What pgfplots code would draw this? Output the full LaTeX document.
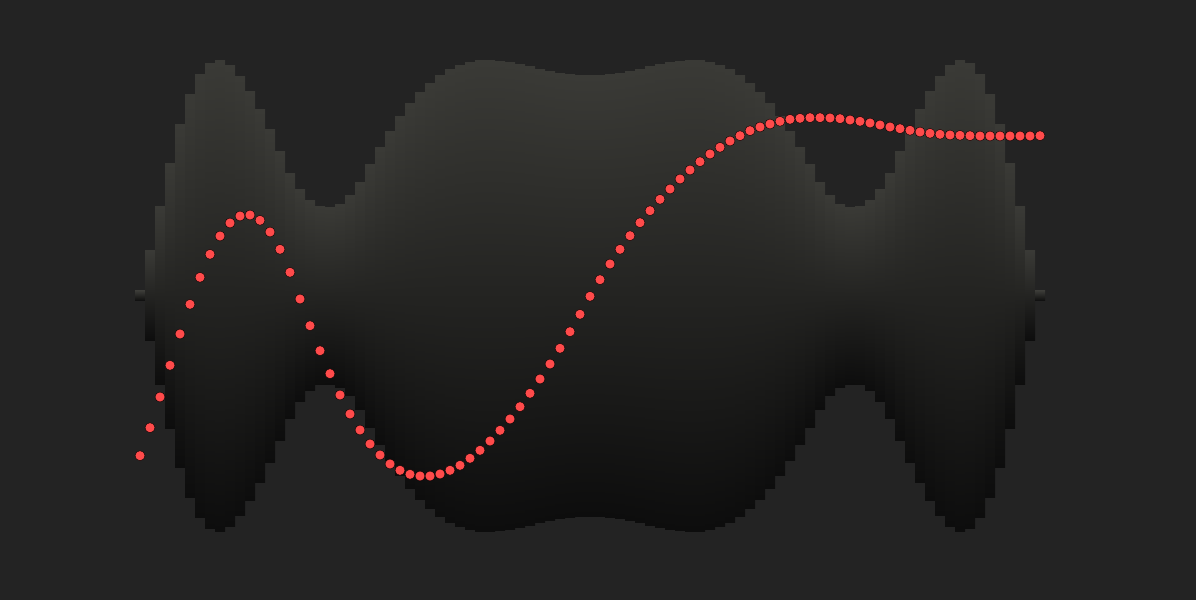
\documentclass[border=0pt]{standalone}
\usepackage{pgfplots}
\usepackage{pgfplotstable}
\pgfplotsset{compat=1.18}
\definecolor{bg}{HTML}{232323}
\definecolor{bandtop}{HTML}{3A3A36}
\definecolor{bandbot}{HTML}{0D0D0D}
\definecolor{dotred}{HTML}{FF4B4B}
\pgfdeclareverticalshading{bandshade}{100bp}{color(0bp)=(bandbot); color(25bp)=(bandbot); color(75bp)=(bandtop); color(100bp)=(bandtop)}
\pgfdeclareplotmark{bandbar}{%
  \pgfpathrectangle{\pgfpoint{-5bp}{-\hval bp}}{\pgfpoint{10bp}{2*\hval bp}}%
  \pgfshadepath{bandshade}{0}%
  \pgfusepath{}%
}
\pgfplotstableread{
x c h
140 304 5
150 304 45
160 304 89
170 304 132.5
180 304 171
190 304 201
200 304 221
210 304 232.5
220 304 235
230 304 230
240 304 219.5
250 304 204.5
260 304 186.5
270 304 166
280 304 144.5
290 304 122
300 304 106
310 304 95
320 304 89
330 304 88.5
340 304 91.5
350 304 100
360 304 113.5
370 304 131
380 304 148
390 304 164
400 304 179
410 304 192
420 304 203
430 304 212.5
440 304 220
450 304 226
460 304 230
470 304 233
480 304 235
490 304 235
500 304 234.5
510 304 233
520 304 231.5
530 304 229
540 304 226.5
550 304 224
560 304 222.5
570 304 221
580 304 220
590 304 220
600 304 220
610 304 221
620 304 222.5
630 304 224
640 304 226.5
650 304 229
660 304 231.5
670 304 233
680 304 234.5
690 304 235
700 304 235
710 304 233
720 304 230
730 304 226
740 304 220
750 304 212.5
760 304 203
770 304 192
780 304 179
790 304 164
800 304 148
810 304 131
820 304 113.5
830 304 100
840 304 91.5
850 304 88.5
860 304 89
870 304 95
880 304 106
890 304 122
900 304 144.5
910 304 166
920 304 186.5
930 304 204.5
940 304 219.5
950 304 230
960 304 235
970 304 232.5
980 304 221
990 304 201
1000 304 171
1010 304 132.5
1020 304 89
1030 304 45
1040 304 5
}\bandtable
\pgfplotstableread{
x y
140 144.3
150 172.3
160 203
170 234.7
180 266
190 295.7
200 322.7
210 345.7
220 364
230 377
240 384
250 385
260 379.7
270 368
280 350.7
290 327.7
300 301
310 274.3
320 249.3
330 226.3
340 205
350 186
360 170
370 156
380 145
390 136
400 129.7
410 125.7
420 124
430 124
440 126
450 129.7
460 134.7
470 141.7
480 149.7
490 159
500 169.7
510 181
520 193.3
530 206.7
540 221
550 236
560 251.7
570 268.3
580 285.7
590 303.7
600 320.3
610 336
620 350.7
630 364.3
640 377.3
650 389.3
660 400.7
670 411
680 421
690 430
700 438.3
710 446
720 452.7
730 459
740 464.3
750 469.3
760 473
770 476
780 478.7
790 480.7
800 481.7
810 482.3
820 482.3
830 482
840 481.3
850 480
860 478.7
870 477
880 475
890 473
900 471.3
910 469.7
920 468
930 466.7
940 465.7
950 465
960 464.7
970 464.3
980 464
990 464
1000 464
1010 464
1020 464
1030 464
1040 464.3
}\dottable
\begin{document}
\begin{tikzpicture}
\fill[bg] (0,0) rectangle (1196bp,600bp);
\begin{axis}[at={(0,0)},anchor=origin,x=1bp,y=1bp,xmin=0,xmax=1196,ymin=0,ymax=600,
  hide axis,clip=true]
\addplot[only marks,mark=bandbar,visualization depends on={\thisrow{h} \as \hval}] table[x=x,y=c] {\bandtable};
\addplot[only marks,mark=*,mark size=5bp,draw=none,fill=dotred,mark options={draw=none,fill=dotred}] table[x=x,y=y] {\dottable};
\end{axis}
\end{tikzpicture}
\end{document}
